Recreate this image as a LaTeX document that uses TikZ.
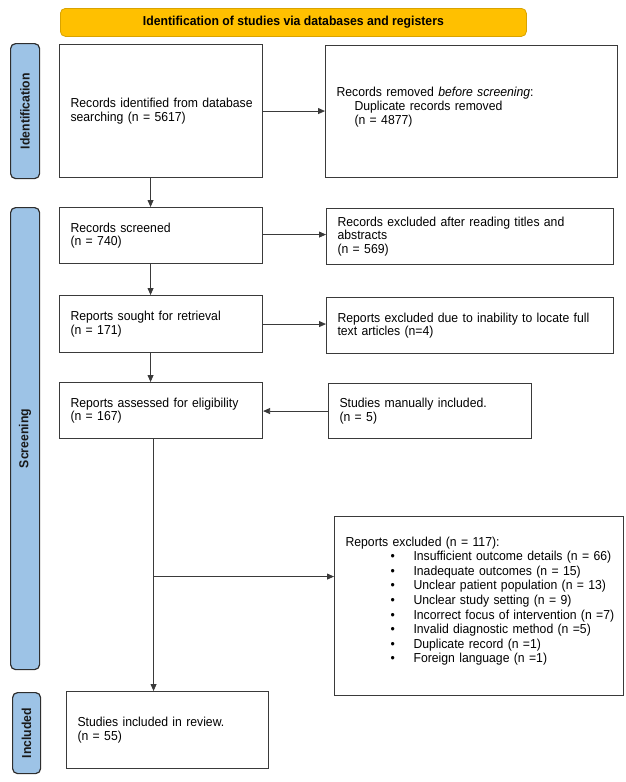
\documentclass[tikz,border=0pt]{standalone}
\usepackage{fontspec}
\setmainfont[FakeStretch=0.94]{Liberation Sans}
\usetikzlibrary{arrows.meta,calc}
\definecolor{boxline}{HTML}{3A3A3A}
\definecolor{barfill}{HTML}{9DC3E6}
\definecolor{barline}{HTML}{2E2E2E}
\definecolor{banfill}{HTML}{FFC000}
\definecolor{banline}{HTML}{D9A300}
\newcommand\bx[1]{\mbox{#1}}
\newcommand\itm[1]{\hspace*{45pt}\makebox[23pt][l]{\textbullet}\mbox{#1}}
\begin{document}
\begin{tikzpicture}[x=1pt,y=-1pt,
  every node/.style={font=\fontsize{13}{13.8}\selectfont},
  box/.style={draw=boxline,line width=1.1pt,fill=white,anchor=north west,align=left,
    inner xsep=11pt,inner ysep=0pt},
  sidebar/.style={draw=barline,line width=1.2pt,fill=barfill,rounded corners=5pt,
    anchor=north west,inner sep=0pt},
  sidelabel/.style={rotate=90,font=\fontsize{13}{14}\selectfont\bfseries,text=black!90},
  banner/.style={draw=banline,line width=0.8pt,fill=banfill,rounded corners=5pt,
    anchor=north west,inner sep=0pt,font=\fontsize{13}{14}\selectfont\bfseries},
  arr/.style={draw=boxline,line width=0.8pt,-{Triangle[length=7pt,width=6pt]}}]
\useasboundingbox (0,0) rectangle (626,782);
% banner
\node[banner,minimum width=466pt,minimum height=28pt] (ban) at (60,8)
  {Identification of studies via databases and registers};
% side bars
\node[sidebar,minimum width=29pt,minimum height=135pt] (idb) at (10,43) {};
\node[sidelabel] (idl) at (idb.center) {Identification};
\node[sidebar,minimum width=29pt,minimum height=462pt] (scb) at (10,207) {};
\node[sidelabel] (scl) at (scb.center) {Screening};
\node[sidebar,minimum width=28pt,minimum height=81pt] (inb) at (12,692) {};
\node[sidelabel] (inl) at (inb.center) {Included};
% boxes
\node[box,text width=181pt,minimum height=133pt] (b1) at (59,44)
  {\bx{Records identified from database}\\\bx{searching (n = 5617)}};
\node[box,text width=270pt,minimum height=132pt] (rem) at (325,45)
  {\bx{Records removed \textit{before screening}:}\\\hspace*{18pt}\bx{Duplicate records removed}\\\hspace*{18pt}\bx{(n = 4877)}\\[-2pt]\mbox{}};
\node[box,text width=181pt,minimum height=56pt] (scr) at (59,207)
  {\bx{Records screened}\\\bx{(n = 740)}};
\node[box,text width=265pt,minimum height=56pt] (ex1) at (326,208)
  {\bx{Records excluded after reading titles and}\\\bx{abstracts}\\\bx{(n = 569)}};
\node[box,text width=181pt,minimum height=57pt] (sou) at (59,295)
  {\bx{Reports sought for retrieval}\\\bx{(n = 171)}};
\node[box,text width=265pt,minimum height=56pt] (ex2) at (326,297)
  {\bx{Reports excluded due to inability to locate full}\\\bx{text articles (n=4)}};
\node[box,text width=181pt,minimum height=56pt] (ass) at (59,382)
  {\bx{Reports assessed for eligibility}\\\bx{(n = 167)}};
\node[box,text width=181pt,minimum height=55pt] (man) at (328,383)
  {\bx{Studies manually included.}\\\bx{(n = 5)}};
\node[box,text width=267pt,minimum height=179pt,
  font=\fontsize{13}{14.6}\selectfont] (rex) at (334,516)
  {\bx{Reports excluded (n = 117):}\\
  \itm{Insufficient outcome details (n = 66)}\\
  \itm{Inadequate outcomes (n = 15)}\\
  \itm{Unclear patient population (n = 13)}\\
  \itm{Unclear study setting (n = 9)}\\
  \itm{Incorrect focus of intervention (n =7)}\\
  \itm{Invalid diagnostic method (n =5)}\\
  \itm{Duplicate record (n =1)}\\
  \itm{Foreign language (n =1)}\\[-2pt]\mbox{}};
\node[box,text width=180pt,minimum height=77pt] (inc) at (66,691)
  {\bx{Studies included in review.}\\\bx{(n = 55)}};
% vertical arrows
\draw[arr] ([xshift=-10.5pt]b1.south) -- ([xshift=-10.5pt]b1.south |- scr.north);
\draw[arr] ([xshift=-10.5pt]scr.south) -- ([xshift=-10.5pt]scr.south |- sou.north);
\draw[arr] ([xshift=-10.5pt]sou.south) -- ([xshift=-10.5pt]sou.south |- ass.north);
\coordinate (bj) at ($([xshift=-7.5pt]ass.south |- rex.west)+(0,-29.5)$);
\draw[arr] ([xshift=-7.5pt]ass.south) -- ([xshift=-7.5pt]ass.south |- inc.north);
\draw[arr] (bj) -- (bj -| rex.west);
% horizontal arrows
\draw[arr] (b1.east) -- (b1.east -| rem.west);
\draw[arr] ([yshift=1pt]scr.east) -- ([yshift=1pt]scr.east -| ex1.west);
\draw[arr] (sou.east) -- (sou.east -| ex2.west);
\draw[arr] (man.west) -- (man.west -| ass.east);
\end{tikzpicture}
\end{document}
